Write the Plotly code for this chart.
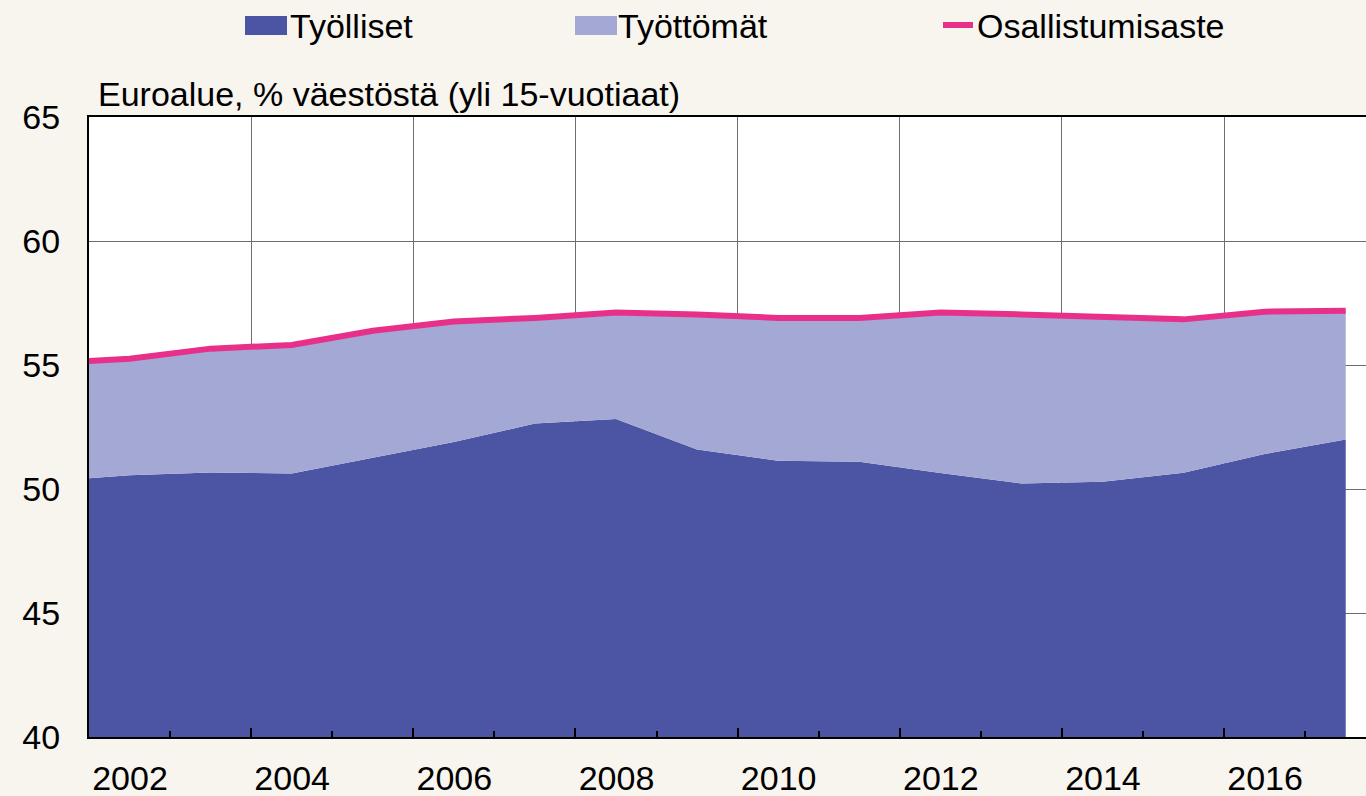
import plotly.graph_objects as go

# Euro area, % of population aged over 15 (annual, plotted at mid-year)
years = [2001, 2002, 2003, 2004, 2005, 2006, 2007, 2008, 2009,
         2010, 2011, 2012, 2013, 2014, 2015, 2016, 2017]
employed = [50.31, 50.55, 50.67, 50.63, 51.26, 51.90, 52.64, 52.82, 51.59,
            51.14, 51.10, 50.65, 50.22, 50.29, 50.66, 51.41, 52.00]
unemployed = [4.76, 4.70, 4.99, 5.18, 5.12, 4.85, 4.26, 4.30, 5.45,
              5.76, 5.80, 6.47, 6.82, 6.66, 6.18, 5.74, 5.19]
participation = [55.07, 55.25, 55.66, 55.81, 56.38, 56.75, 56.90, 57.12, 57.04,
                 56.90, 56.90, 57.12, 57.04, 56.95, 56.84, 57.15, 57.19]

label_years = [2002, 2004, 2006, 2008, 2010, 2012, 2014, 2016]
minor_years = [2003, 2005, 2007, 2009, 2011, 2013, 2015, 2017]
y_ticks = [40, 45, 50, 55, 60, 65]

legend_names = ["Työlliset", "Työttömät", "Osallistumisaste"]
subtitle = "Euroalue, % väestöstä (yli 15-vuotiaat)"

DARK = "#4C55A4"
LIGHT = "#A3A8D4"
PINK = "#E8308A"
BG = "#F8F4EE"
FONT = "Liberation Sans, Arial, sans-serif"

W, H = 1366, 796
L, R, T, B = 89, 0, 117, 59
PW, PH = W - L - R, H - T - B


def px(xp, yp):
    """Convert a pixel position on the page to paper coordinates."""
    return (xp - L) / PW, (H - B - yp) / PH


x_mid = [y + 0.5 for y in years]

fig = go.Figure()

fig.add_trace(go.Scatter(
    x=x_mid, y=employed, stackgroup="one", mode="none",
    fillcolor=DARK, name=legend_names[0], showlegend=False, hoverinfo="skip",
))
fig.add_trace(go.Scatter(
    x=x_mid, y=unemployed, stackgroup="one", mode="none",
    fillcolor=LIGHT, name=legend_names[1], showlegend=False, hoverinfo="skip",
))
fig.add_trace(go.Scatter(
    x=x_mid, y=participation, mode="lines",
    line=dict(color=PINK, width=6),
    name=legend_names[2], showlegend=False, hoverinfo="skip",
))

# hand-made legend across the top
shapes = []
annotations = []
x0, y0 = px(245, 16)
x1, y1 = px(287, 35)
shapes.append(dict(type="rect", xref="paper", yref="paper", x0=x0, x1=x1, y0=y1, y1=y0,
                   fillcolor=DARK, line=dict(width=0)))
x0, y0 = px(575, 16)
x1, y1 = px(617, 35)
shapes.append(dict(type="rect", xref="paper", yref="paper", x0=x0, x1=x1, y0=y1, y1=y0,
                   fillcolor=LIGHT, line=dict(width=0)))
x0, ym = px(943, 25)
x1, _ = px(973, 25)
shapes.append(dict(type="line", xref="paper", yref="paper", x0=x0, x1=x1, y0=ym, y1=ym,
                   line=dict(color=PINK, width=6)))

for name, xp in zip(legend_names, [288, 616, 975]):
    ax, ay = px(xp, 26)
    annotations.append(dict(
        text=name, xref="paper", yref="paper", x=ax, y=ay,
        xanchor="left", yanchor="middle", showarrow=False,
        font=dict(size=34, family=FONT, color="black"),
    ))

annotations.append(dict(
    text=subtitle, xref="paper", yref="paper", x=0, y=1,
    xanchor="left", yanchor="bottom", xshift=7, yshift=2, showarrow=False,
    font=dict(size=34, family=FONT, color="black"),
))

fig.update_layout(
    width=W, height=H,
    margin=dict(l=L, r=R, t=T, b=B),
    paper_bgcolor=BG,
    plot_bgcolor="white",
    font=dict(family=FONT, size=34, color="black"),
    showlegend=False,
    shapes=shapes,
    annotations=annotations,
    xaxis=dict(
        range=[2002, 2017.75],
        tickvals=label_years,
        ticktext=[str(y) for y in label_years],
        ticks="inside", ticklen=9, tickwidth=1.5, tickcolor="black",
        ticklabelshift=41, ticklabelstandoff=10,
        showgrid=True, gridcolor="#6e6e6e", gridwidth=1,
        minor=dict(tickvals=minor_years, ticks="inside", ticklen=6,
                   tickwidth=1.5, tickcolor="black", showgrid=False),
        showline=True, linecolor="black", linewidth=2, mirror=True,
        zeroline=False, fixedrange=True, automargin=False,
    ),
    yaxis=dict(
        range=[40, 65],
        tickvals=y_ticks,
        ticks="", ticklabelstandoff=20,
        showgrid=True, gridcolor="#6e6e6e", gridwidth=1,
        showline=True, linecolor="black", linewidth=2,
        zeroline=False, fixedrange=True, automargin=False,
    ),
)

# the page's default body margin would shift the chart by 8 px
fig.write_html("out.html", config={"displayModeBar": False},
               post_script="document.body.style.margin = '0';")
